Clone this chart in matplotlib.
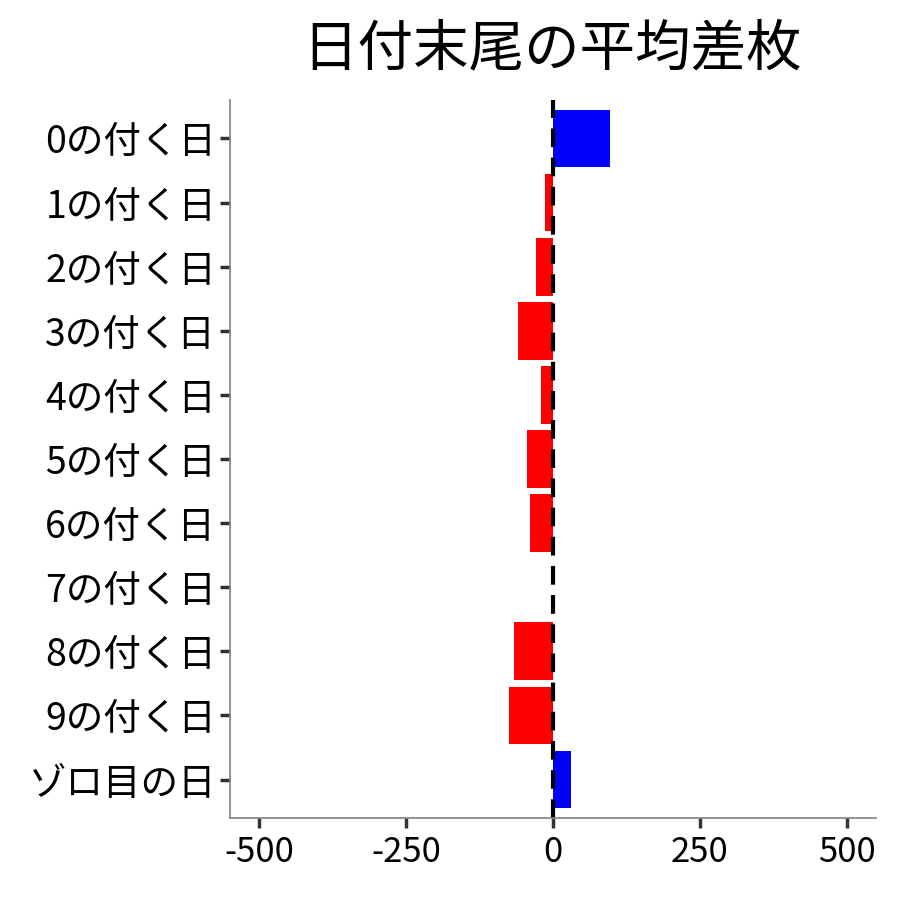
import matplotlib as mpl
import matplotlib.pyplot as plt

mpl.rcParams["font.family"] = ["Noto Sans CJK JP", "DejaVu Sans"]

categories = [
    "0の付く日",
    "1の付く日",
    "2の付く日",
    "3の付く日",
    "4の付く日",
    "5の付く日",
    "6の付く日",
    "7の付く日",
    "8の付く日",
    "9の付く日",
    "ゾロ目の日",
]
values = [97, -14, -29, -60, -20, -44, -39, 0, -66, -75, 31]
xticks = [-500, -250, 0, 250, 500]
title = "日付末尾の平均差枚"

colors = ["blue" if v > 0 else "red" for v in values]
ypos = list(range(len(categories)))

fig = plt.figure(figsize=(9, 9), dpi=100)
ax = fig.add_axes([0.2556, 0.0911, 0.7177, 0.7978])

ax.barh(ypos, values, height=0.9, color=colors)
ax.axvline(0, color="black", linewidth=3, linestyle=(0, (4.5, 2.5)))

ax.set_xlim(-550, 550)
ax.set_ylim(len(categories) - 0.4, -0.6)
ax.set_yticks(ypos)
ax.set_yticklabels(categories)
ax.set_xticks(xticks)
ax.set_xticklabels([str(t) for t in xticks])

ax.tick_params(axis="both", colors="#333333", width=2.5, length=7,
               labelcolor="black")
ax.tick_params(axis="y", pad=3, labelsize=27)
ax.tick_params(axis="x", pad=5, labelsize=25)

for side in ["top", "right"]:
    ax.spines[side].set_visible(False)
for side in ["left", "bottom"]:
    ax.spines[side].set_color("#7f7f7f")
    ax.spines[side].set_linewidth(1.2)

fig.text(0.613, 0.945, title, ha="center", va="center", fontsize=40)

plt.savefig("out.png", dpi=100)
plt.close(fig)
